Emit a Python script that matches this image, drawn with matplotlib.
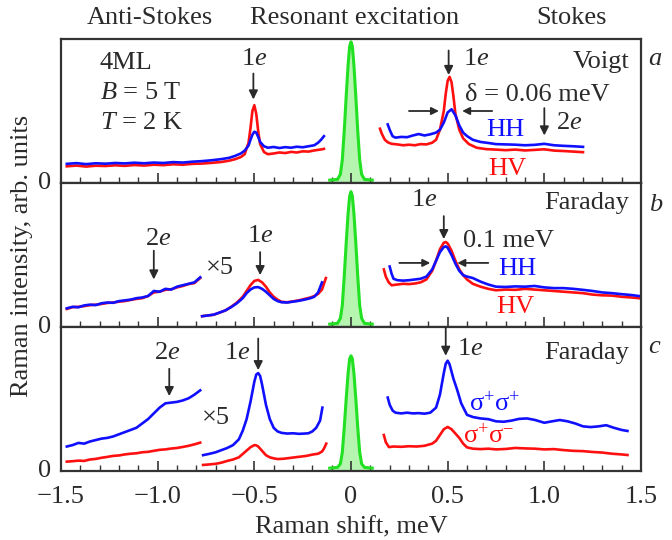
import matplotlib
matplotlib.use("Agg")
import matplotlib.pyplot as plt
from matplotlib.ticker import MultipleLocator

plt.rcParams['font.family'] = ['Liberation Serif', 'DejaVu Serif']
plt.rcParams['mathtext.fontset'] = 'custom'
plt.rcParams['mathtext.rm'] = 'Liberation Serif'
plt.rcParams['mathtext.it'] = 'Liberation Serif:italic'
plt.rcParams['font.size'] = 19

RED = '#ff1010'
BLUE = '#1010ff'
INK = '#2a2a2a'

# ---- laser line (resonant excitation) ----
laser_x = [-0.11, -0.07, -0.055, -0.045, -0.035, -0.025, -0.015, -0.007, 0.0,
           0.007, 0.015, 0.025, 0.035, 0.045, 0.055, 0.07, 0.11]
laser_a = [0.02, 0.025, 0.06, 0.16, 0.36, 0.6, 0.82, 0.95, 0.98,
           0.95, 0.82, 0.6, 0.36, 0.16, 0.06, 0.025, 0.02]
laser_b = [0.02, 0.025, 0.06, 0.15, 0.35, 0.58, 0.79, 0.91, 0.94,
           0.91, 0.79, 0.58, 0.35, 0.15, 0.06, 0.025, 0.02]
laser_c = [0.02, 0.025, 0.05, 0.13, 0.3, 0.5, 0.68, 0.78, 0.80,
           0.78, 0.68, 0.5, 0.3, 0.13, 0.05, 0.025, 0.02]

# ---- panel a (Voigt) ----
a_as_x = [-1.47, -1.42, -1.37, -1.32, -1.27, -1.22, -1.17, -1.12, -1.07, -1.02,
          -0.97, -0.92, -0.87, -0.82, -0.77, -0.72, -0.67, -0.63, -0.60, -0.57,
          -0.55, -0.53, -0.52, -0.51, -0.50, -0.49, -0.48, -0.47, -0.45, -0.43,
          -0.40, -0.37, -0.34, -0.31, -0.28, -0.25, -0.22, -0.19, -0.17, -0.155, -0.14]
a_as_hv = [0.116, 0.121, 0.114, 0.12, 0.118, 0.123, 0.119, 0.125, 0.121, 0.127,
           0.124, 0.13, 0.127, 0.133, 0.135, 0.14, 0.146, 0.155, 0.165, 0.18,
           0.2, 0.28, 0.38, 0.5, 0.54, 0.48, 0.36, 0.27, 0.215, 0.2,
           0.205, 0.212, 0.208, 0.216, 0.212, 0.22, 0.218, 0.226, 0.23, 0.233, 0.237]
a_as_hh = [0.133, 0.138, 0.131, 0.137, 0.134, 0.139, 0.136, 0.141, 0.137, 0.142,
           0.139, 0.145, 0.142, 0.148, 0.152, 0.158, 0.166, 0.175, 0.188, 0.205,
           0.225, 0.26, 0.3, 0.335, 0.356, 0.35, 0.32, 0.285, 0.255, 0.245,
           0.25, 0.243, 0.249, 0.245, 0.252, 0.248, 0.255, 0.262, 0.28, 0.3, 0.325]
a_st_hv_x = [0.15, 0.16, 0.175, 0.19, 0.21, 0.24, 0.27, 0.30, 0.33, 0.36, 0.39, 0.42,
             0.44, 0.46, 0.48, 0.49, 0.50, 0.51, 0.52, 0.53, 0.54, 0.56, 0.58, 0.61,
             0.65, 0.70, 0.75, 0.80, 0.85, 0.90, 0.95, 1.0, 1.05, 1.10, 1.15, 1.20]
a_st_hv = [0.377, 0.34, 0.3, 0.283, 0.272, 0.268, 0.262, 0.266, 0.262, 0.27, 0.268, 0.28,
           0.3, 0.37, 0.5, 0.62, 0.71, 0.737, 0.7, 0.6, 0.48, 0.37, 0.31, 0.27,
           0.245, 0.235, 0.232, 0.228, 0.232, 0.226, 0.23, 0.234, 0.225, 0.222, 0.218, 0.214]
a_st_hh_x = [0.19, 0.20, 0.215, 0.23, 0.26, 0.29, 0.32, 0.35, 0.38, 0.41, 0.44, 0.46,
             0.48, 0.50, 0.52, 0.54, 0.56, 0.58, 0.60, 0.63, 0.67, 0.71, 0.75, 0.80,
             0.85, 0.90, 0.95, 1.0, 1.05, 1.10, 1.15, 1.20]
a_st_hh = [0.407, 0.37, 0.325, 0.315, 0.32, 0.318, 0.33, 0.34, 0.33, 0.338, 0.35, 0.37,
           0.42, 0.49, 0.512, 0.47, 0.4, 0.35, 0.326, 0.3, 0.285, 0.278, 0.27, 0.268,
           0.266, 0.262, 0.265, 0.272, 0.262, 0.258, 0.255, 0.251]

# ---- panel b (Faraday, linear) ----
far_x = [-1.47, -1.44, -1.41, -1.38, -1.35, -1.32, -1.29, -1.26, -1.23, -1.20, -1.17, -1.14,
         -1.11, -1.08, -1.05, -1.02, -0.99, -0.96, -0.93, -0.90, -0.87, -0.84, -0.81, -0.78]
b_far_hh = [0.13, 0.14, 0.137, 0.15, 0.155, 0.152, 0.165, 0.17, 0.168, 0.18, 0.185, 0.19,
            0.2, 0.205, 0.215, 0.25, 0.245, 0.265, 0.26, 0.28, 0.29, 0.3, 0.31, 0.345]
b_far_hv = [0.125, 0.138, 0.14, 0.145, 0.152, 0.155, 0.16, 0.167, 0.17, 0.176, 0.18, 0.188,
            0.195, 0.2, 0.215, 0.24, 0.245, 0.258, 0.262, 0.275, 0.285, 0.298, 0.305, 0.34]
b_mid_hv_x = [-0.77, -0.74, -0.71, -0.68, -0.65, -0.62, -0.59, -0.56, -0.54, -0.52, -0.50,
              -0.48, -0.46, -0.44, -0.42, -0.40, -0.38, -0.36, -0.33, -0.30, -0.27, -0.24,
              -0.21, -0.19, -0.17, -0.15, -0.14, -0.13]
b_mid_hv = [0.075, 0.08, 0.085, 0.1, 0.115, 0.14, 0.17, 0.21, 0.25, 0.29, 0.32,
            0.327, 0.31, 0.28, 0.24, 0.21, 0.19, 0.175, 0.172, 0.178, 0.185, 0.195,
            0.205, 0.215, 0.23, 0.26, 0.3, 0.34]
b_mid_hh_x = [-0.77, -0.74, -0.71, -0.68, -0.65, -0.62, -0.59, -0.56, -0.54, -0.52, -0.50,
              -0.48, -0.46, -0.44, -0.42, -0.40, -0.38, -0.36, -0.33, -0.30, -0.27, -0.24,
              -0.21, -0.19, -0.17, -0.15]
b_mid_hh = [0.075, 0.08, 0.086, 0.1, 0.115, 0.138, 0.165, 0.2, 0.235, 0.26, 0.275,
            0.277, 0.265, 0.245, 0.22, 0.195, 0.18, 0.172, 0.17, 0.176, 0.182, 0.19,
            0.2, 0.21, 0.24, 0.31]
b_st_hv_x = [0.17, 0.18, 0.195, 0.21, 0.24, 0.27, 0.30, 0.33, 0.36, 0.39, 0.42, 0.44, 0.46,
             0.48, 0.49, 0.50, 0.52, 0.54, 0.56, 0.58, 0.60, 0.63, 0.67, 0.71, 0.75, 0.80,
             0.85, 0.90, 0.95, 1.0, 1.05, 1.10, 1.15, 1.20, 1.25, 1.30, 1.35, 1.40, 1.45, 1.49]
b_st_hv = [0.40, 0.35, 0.31, 0.29, 0.295, 0.3, 0.298, 0.302, 0.31, 0.33, 0.39, 0.46, 0.54,
           0.585, 0.59, 0.58, 0.53, 0.46, 0.4, 0.36, 0.33, 0.3, 0.28, 0.265, 0.255, 0.26,
           0.258, 0.265, 0.26, 0.255, 0.25, 0.245, 0.24, 0.235, 0.225, 0.22, 0.218, 0.21, 0.205, 0.2]
b_st_hh_x = [0.20, 0.21, 0.22, 0.24, 0.27, 0.30, 0.33, 0.36, 0.39, 0.42, 0.44, 0.46, 0.48,
             0.49, 0.50, 0.52, 0.54, 0.56, 0.58, 0.60, 0.63, 0.67, 0.71, 0.75, 0.80, 0.85,
             0.90, 0.95, 1.0, 1.05, 1.10, 1.15, 1.20, 1.25, 1.30, 1.35, 1.40, 1.45, 1.49]
b_st_hh = [0.42, 0.37, 0.335, 0.325, 0.322, 0.325, 0.33, 0.335, 0.35, 0.4, 0.46, 0.52, 0.555,
           0.56, 0.55, 0.5, 0.44, 0.39, 0.36, 0.35, 0.34, 0.315, 0.295, 0.28, 0.278, 0.282,
           0.28, 0.285, 0.275, 0.27, 0.27, 0.265, 0.258, 0.25, 0.24, 0.235, 0.228, 0.222, 0.215]

# ---- panel c (Faraday, circular) ----
c_far_pp = [0.17, 0.18, 0.195, 0.19, 0.205, 0.215, 0.225, 0.23, 0.24, 0.255, 0.27, 0.285,
            0.3, 0.33, 0.36, 0.4, 0.44, 0.47, 0.475, 0.48, 0.49, 0.505, 0.53, 0.56]
c_far_pm = [0.065, 0.068, 0.072, 0.07, 0.08, 0.084, 0.092, 0.098, 0.105, 0.108, 0.115, 0.12,
            0.123, 0.13, 0.133, 0.14, 0.147, 0.15, 0.156, 0.16, 0.167, 0.175, 0.185, 0.197]
c_mid_pp_x = [-0.765, -0.73, -0.70, -0.67, -0.64, -0.61, -0.58, -0.56, -0.54, -0.52, -0.50,
              -0.49, -0.48, -0.47, -0.46, -0.44, -0.42, -0.40, -0.38, -0.36, -0.33, -0.30,
              -0.27, -0.24, -0.22, -0.20, -0.18, -0.16, -0.148]
c_mid_pp = [0.11, 0.12, 0.13, 0.145, 0.16, 0.18, 0.22, 0.28, 0.36, 0.48, 0.62,
            0.67, 0.68, 0.66, 0.6, 0.46, 0.36, 0.3, 0.275, 0.265, 0.26, 0.262,
            0.258, 0.26, 0.262, 0.275, 0.3, 0.35, 0.44]
c_mid_pm_x = [-0.765, -0.73, -0.70, -0.67, -0.64, -0.61, -0.58, -0.55, -0.52, -0.50, -0.49,
              -0.48, -0.46, -0.44, -0.42, -0.40, -0.38, -0.35, -0.32, -0.29, -0.26, -0.23,
              -0.20, -0.17, -0.15, -0.14, -0.128]
c_mid_pm = [0.042, 0.046, 0.05, 0.058, 0.07, 0.08, 0.095, 0.13, 0.165, 0.18, 0.178,
            0.17, 0.14, 0.11, 0.095, 0.088, 0.083, 0.085, 0.09, 0.095, 0.1, 0.105,
            0.114, 0.12, 0.135, 0.155, 0.19]
c_st_pp_x = [0.19, 0.20, 0.215, 0.23, 0.26, 0.29, 0.32, 0.35, 0.38, 0.41, 0.44, 0.46, 0.48,
             0.49, 0.50, 0.51, 0.53, 0.55, 0.57, 0.60, 0.63, 0.67, 0.71, 0.75, 0.79, 0.83,
             0.87, 0.91, 0.95, 1.0, 1.04, 1.08, 1.12, 1.16, 1.20, 1.24, 1.28, 1.32, 1.36,
             1.40, 1.43]
c_st_pp = [0.51, 0.46, 0.42, 0.405, 0.4, 0.405, 0.4, 0.402, 0.398, 0.405, 0.44, 0.53, 0.68,
           0.745, 0.766, 0.74, 0.64, 0.56, 0.47, 0.39, 0.375, 0.365, 0.36, 0.345, 0.342, 0.35,
           0.362, 0.365, 0.355, 0.335, 0.345, 0.354, 0.345, 0.33, 0.31, 0.305, 0.31, 0.318, 0.3,
           0.285, 0.278]
c_st_pm_x = [0.17, 0.18, 0.196, 0.22, 0.26, 0.30, 0.34, 0.38, 0.42, 0.44, 0.46, 0.48, 0.50,
             0.52, 0.54, 0.56, 0.58, 0.60, 0.63, 0.67, 0.71, 0.75, 0.80, 0.85, 0.90, 0.95,
             1.0, 1.05, 1.10, 1.15, 1.20, 1.25, 1.30, 1.35, 1.40, 1.43]
c_st_pm = [0.25, 0.2, 0.166, 0.17, 0.168, 0.172, 0.17, 0.175, 0.19, 0.21, 0.25, 0.29, 0.306,
           0.29, 0.26, 0.23, 0.19, 0.164, 0.155, 0.152, 0.155, 0.15, 0.153, 0.16, 0.157, 0.155,
           0.15, 0.152, 0.145, 0.14, 0.138, 0.132, 0.128, 0.12, 0.115, 0.111]

fig = plt.figure(figsize=(6.72, 5.40), dpi=100)
L, W = 61 / 672, 580 / 672
H = 144 / 540
ax_a = fig.add_axes([L, 1 - 183 / 540, W, H])
ax_b = fig.add_axes([L, 1 - 327 / 540, W, H])
ax_c = fig.add_axes([L, 1 - 471 / 540, W, H])


def setup(ax, bottom_labels):
    ax.set_xlim(-1.5, 1.5)
    ax.set_ylim(0, 1)
    for s in ax.spines.values():
        s.set_color('#333333')
        s.set_linewidth(1.6)
    ax.xaxis.set_major_locator(MultipleLocator(0.5))
    ax.xaxis.set_minor_locator(MultipleLocator(0.1))
    ax.tick_params(axis='x', which='both', direction='in', top=False, color='#333333',
                   labelbottom=bottom_labels, labelcolor=INK, pad=11)
    ax.tick_params(axis='x', which='major', length=7, width=1.2)
    ax.tick_params(axis='x', which='minor', length=4.5, width=1.0)
    ax.set_yticks([0.02])
    ax.set_yticklabels(['0'])
    ax.tick_params(axis='y', length=0, pad=7, labelcolor=INK)


def laser(ax, y):
    ax.fill_between(laser_x, y, 0, color='#b6f5b0', lw=0)
    ax.plot(laser_x, y, color='#22e022', lw=2.2)


def arrow(ax, x, y0, y1):
    ax.annotate('', xy=(x, y1), xytext=(x, y0),
                arrowprops=dict(arrowstyle='-|>', color=INK, lw=1.3, mutation_scale=13,
                                shrinkA=0, shrinkB=0))


def harrow(ax, x0, x1, y):
    ax.annotate('', xy=(x1, y), xytext=(x0, y),
                arrowprops=dict(arrowstyle='-|>', color=INK, lw=1.3, mutation_scale=11,
                                shrinkA=0, shrinkB=0))


LW = 1.9
for ax in (ax_a, ax_b, ax_c):
    setup(ax, ax is ax_c)

# panel a
laser(ax_a, laser_a)
ax_a.plot(a_as_x, a_as_hv, color=RED, lw=LW)
ax_a.plot(a_as_x, a_as_hh, color=BLUE, lw=LW)
ax_a.plot(a_st_hv_x, a_st_hv, color=RED, lw=LW)
ax_a.plot(a_st_hh_x, a_st_hh, color=BLUE, lw=LW)
ax_a.text(-1.30, 0.83, '4ML', color=INK, va='center')
ax_a.text(-1.30, 0.625, '$B$ = 5 T', color=INK, va='center')
ax_a.text(-1.30, 0.42, '$T$ = 2 K', color=INK, va='center')
ax_a.text(-0.5, 0.86, '1$e$', color=INK, ha='center', va='center')
arrow(ax_a, -0.505, 0.76, 0.58)
arrow(ax_a, 0.505, 0.92, 0.75)
ax_a.text(0.58, 0.86, '1$e$', color=INK, va='center')
ax_a.text(1.44, 0.84, 'Voigt', color=INK, ha='right', va='center')
ax_a.text(0.59, 0.61, 'δ = 0.06 meV', color=INK, va='center')
harrow(ax_a, 0.30, 0.455, 0.50)
harrow(ax_a, 0.73, 0.575, 0.50)
ax_a.text(0.80, 0.37, 'HH', color=BLUE, ha='center', va='center')
ax_a.text(0.81, 0.10, 'HV', color=RED, ha='center', va='center')
arrow(ax_a, 1.0, 0.52, 0.33)
ax_a.text(1.06, 0.42, '2$e$', color=INK, va='center')
ax_a.text(1.013, 0.86, 'a', transform=ax_a.transAxes, style='italic', color=INK, va='center')

# panel b
laser(ax_b, laser_b)
ax_b.plot(far_x, b_far_hv, color=RED, lw=LW)
ax_b.plot(far_x, b_far_hh, color=BLUE, lw=LW)
ax_b.plot(b_mid_hv_x, b_mid_hv, color=RED, lw=LW)
ax_b.plot(b_mid_hh_x, b_mid_hh, color=BLUE, lw=LW)
ax_b.plot(b_st_hv_x, b_st_hv, color=RED, lw=LW)
ax_b.plot(b_st_hh_x, b_st_hh, color=BLUE, lw=LW)
ax_b.text(-1.0, 0.61, '2$e$', color=INK, ha='center', va='center')
arrow(ax_b, -1.02, 0.53, 0.33)
ax_b.text(-0.68, 0.41, '×5', color=INK, ha='center', va='center')
ax_b.text(-0.47, 0.63, '1$e$', color=INK, ha='center', va='center')
arrow(ax_b, -0.47, 0.52, 0.36)
ax_b.text(0.38, 0.88, '1$e$', color=INK, ha='center', va='center')
arrow(ax_b, 0.48, 0.77, 0.61)
ax_b.text(0.58, 0.60, '0.1 meV', color=INK, va='center')
harrow(ax_b, 0.25, 0.41, 0.445)
harrow(ax_b, 0.71, 0.55, 0.445)
ax_b.text(0.86, 0.40, 'HH', color=BLUE, ha='center', va='center')
ax_b.text(0.85, 0.14, 'HV', color=RED, ha='center', va='center')
ax_b.text(1.44, 0.86, 'Faraday', color=INK, ha='right', va='center')
ax_b.text(1.013, 0.85, 'b', transform=ax_b.transAxes, style='italic', color=INK, va='center')

# panel c
laser(ax_c, laser_c)
ax_c.plot(far_x, c_far_pm, color=RED, lw=LW)
ax_c.plot(far_x, c_far_pp, color=BLUE, lw=LW)
ax_c.plot(c_mid_pm_x, c_mid_pm, color=RED, lw=LW)
ax_c.plot(c_mid_pp_x, c_mid_pp, color=BLUE, lw=LW)
ax_c.plot(c_st_pm_x, c_st_pm, color=RED, lw=LW)
ax_c.plot(c_st_pp_x, c_st_pp, color=BLUE, lw=LW)
ax_c.text(-0.95, 0.82, '2$e$', color=INK, ha='center', va='center')
arrow(ax_c, -0.94, 0.71, 0.52)
ax_c.text(-0.70, 0.37, '×5', color=INK, ha='center', va='center')
ax_c.text(-0.59, 0.82, '1$e$', color=INK, ha='center', va='center')
arrow(ax_c, -0.48, 0.92, 0.70)
arrow(ax_c, 0.49, 1.0, 0.80)
ax_c.text(0.55, 0.85, '1$e$', color=INK, va='center')
ax_c.text(1.44, 0.82, 'Faraday', color=INK, ha='right', va='center')
ax_c.text(0.61, 0.46, 'σ$^{+}$σ$^{+}$', color=BLUE, va='center')
ax_c.text(0.58, 0.24, 'σ$^{+}$σ$^{-}$', color=RED, va='center')
ax_c.text(1.013, 0.86, 'c', transform=ax_c.transAxes, style='italic', color=INK, va='center')
ax_c.set_xticks([-1.5, -1.0, -0.5, 0, 0.5, 1.0, 1.5])
ax_c.set_xticklabels(['\u22121.5', '\u22121.0', '\u22120.5', '0', '0.5', '1.0', '1.5'])
ax_c.set_xlabel('Raman shift, meV', color=INK, labelpad=6)

fig.text(22 / 672, 1 - 256 / 540, 'Raman intensity, arb. units', rotation=90,
         ha='center', va='center', color=INK)
fig.text(150 / 672, 1 - 18 / 540, 'Anti-Stokes', ha='center', va='center', color=INK)
fig.text(355 / 672, 1 - 18 / 540, 'Resonant excitation', ha='center', va='center', color=INK)
fig.text(572 / 672, 1 - 18 / 540, 'Stokes', ha='center', va='center', color=INK)

fig.savefig('out.png', dpi=100)
